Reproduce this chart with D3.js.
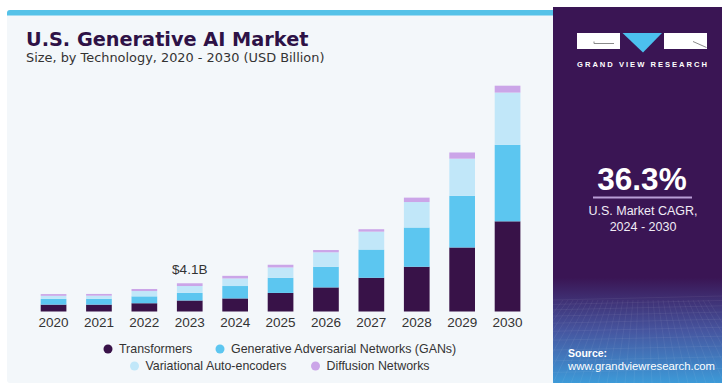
<!DOCTYPE html>
<html>
<head>
<meta charset="utf-8">
<script src="https://cdn.jsdelivr.net/npm/d3@7"></script>
<style>
  html, body { margin: 0; padding: 0; background: #ffffff; }
  svg { display: block; font-family: "Liberation Sans", Arial, sans-serif; }
</style>
</head>
<body>
<svg id="chart" width="722" height="383"></svg>
<script>
// U.S. generative AI market size by technology (USD billion)
const years = ["2020", "2021", "2022", "2023", "2024", "2025", "2026", "2027", "2028", "2029", "2030"];
const transformers = [1.0, 1.0, 1.2, 1.6, 1.9, 2.7, 3.5, 4.9, 6.5, 9.3, 13.1];
const gans = [0.83, 0.85, 1.0, 1.1, 1.8, 2.2, 3.0, 4.1, 5.7, 7.5, 11.1];
const vae = [0.45, 0.45, 0.77, 1.0, 1.1, 1.5, 2.1, 2.6, 3.7, 5.4, 7.6];
const diffusion = [0.25, 0.25, 0.3, 0.4, 0.38, 0.39, 0.33, 0.35, 0.64, 0.9, 1.0];
const seriesNames = ["Transformers", "Generative Adversarial Networks (GANs)", "Variational Auto-encoders", "Diffusion Networks"];
const seriesColors = ["#381248", "#5cc6f0", "#c1e7f9", "#cba5e8"];
const calloutYear = "2023";
const calloutText = "$4.1B";
const cagrValue = "36.3%";
const cagrLines = ["U.S. Market CAGR,", "2024 - 2030"];

const svg = d3.select("#chart");

// ---- background panels ----
svg.append("rect").attr("x", 7).attr("y", 10).attr("width", 548).attr("height", 373)
  .attr("rx", 3).attr("fill", "#f3f7fa");
svg.append("path")
  .attr("d", "M7,16 L7,13 Q7,10 10,10 L555,10 L555,15.5 L7,15.5 Z")
  .attr("fill", "#55c2e8");

// right brand panel with purple-to-blue fade at the bottom
const defs = svg.append("defs");
const grad = defs.append("linearGradient").attr("id", "sideFade")
  .attr("x1", 0).attr("y1", 0).attr("x2", 0).attr("y2", 1);
grad.append("stop").attr("offset", "0%").attr("stop-color", "#3a1554");
grad.append("stop").attr("offset", "72%").attr("stop-color", "#3a1554");
grad.append("stop").attr("offset", "86%").attr("stop-color", "#46559f");
grad.append("stop").attr("offset", "100%").attr("stop-color", "#3d9ad8");
svg.append("rect").attr("x", 553).attr("y", 7).attr("width", 169).attr("height", 376)
  .attr("fill", "url(#sideFade)");

// faint perspective grid in the lower part of the brand panel
const gridG = svg.append("g").attr("stroke", "#ffffff").attr("stroke-opacity", 0.08).attr("stroke-width", 0.8);
for (let i = 0; i < 14; i++) {
  const yy = 300 + i * i * 0.45 + i * 4;
  if (yy > 383) break;
  gridG.append("line").attr("x1", 553).attr("x2", 722).attr("y1", yy).attr("y2", yy - 4);
}
for (let i = -6; i < 24; i++) {
  const xb = 553 + i * 9;
  gridG.append("line").attr("x1", 553 + i * 5 + 40).attr("y1", 300).attr("x2", xb).attr("y2", 383);
}

// ---- logo ----
const logo = svg.append("g");
logo.append("rect").attr("x", 577).attr("y", 33).attr("width", 43).attr("height", 16).attr("fill", "#ffffff");
logo.append("path").attr("d", "M594,41.5 L594,43.5 L614,43.5").attr("fill", "none").attr("stroke", "#8a8a8a").attr("stroke-width", 1);
logo.append("path").attr("d", "M622.5,33 L662,33 L643,52.5 Z").attr("fill", "#4cc0ee");
logo.append("rect").attr("x", 664).attr("y", 33).attr("width", 43).attr("height", 16).attr("fill", "#ffffff");
logo.append("path").attr("d", "M693,41.5 L706.5,47.5").attr("fill", "none").attr("stroke", "#8a8a8a").attr("stroke-width", 1);
logo.append("text").attr("x", 642).attr("y", 67).attr("text-anchor", "middle")
  .attr("font-size", 7.6).attr("font-weight", "bold").attr("fill", "#ffffff")
  .attr("textLength", 130).attr("lengthAdjust", "spacing")
  .text("GRAND VIEW RESEARCH");

// ---- CAGR block ----
svg.append("text").attr("x", 642).attr("y", 189.5).attr("text-anchor", "middle")
  .attr("font-size", 31.5).attr("font-weight", "bold").attr("fill", "#ffffff").text(cagrValue);
svg.append("line").attr("x1", 593).attr("x2", 692).attr("y1", 197.5).attr("y2", 197.5)
  .attr("stroke", "#b99ed6").attr("stroke-width", 2);
svg.selectAll("text.cagr").data(cagrLines).join("text").attr("class", "cagr")
  .attr("x", 643).attr("y", (d, i) => 215 + i * 16).attr("text-anchor", "middle")
  .attr("font-size", 12.5).attr("fill", "#f1ecf6").text(d => d);

// ---- source ----
svg.append("text").attr("x", 568).attr("y", 357).attr("font-size", 10.5).attr("font-weight", "bold")
  .attr("fill", "#ffffff").text("Source:");
svg.append("text").attr("x", 568).attr("y", 369.5).attr("font-size", 11).attr("fill", "#ffffff")
  .attr("textLength", 147).attr("lengthAdjust", "spacingAndGlyphs").text("www.grandviewresearch.com");

// ---- titles ----
svg.append("text").attr("x", 26).attr("y", 45.6).attr("font-size", 19.3).attr("font-weight", "bold")
  .style("font-family", "'DejaVu Sans', sans-serif")
  .attr("fill", "#2e1246").text("U.S. Generative AI Market");
svg.append("text").attr("x", 26).attr("y", 62).attr("font-size", 12.9)
  .style("font-family", "'DejaVu Sans', sans-serif")
  .attr("fill", "#333333").text("Size, by Technology, 2020 - 2030 (USD Billion)");

// ---- stacked bars ----
const rows = years.map((yr, i) => ({
  year: yr,
  s0: transformers[i], s1: gans[i], s2: vae[i], s3: diffusion[i]
}));
const keys = ["s0", "s1", "s2", "s3"];
const stacked = d3.stack().keys(keys)(rows);
const totals = rows.map(r => keys.reduce((a, k) => a + r[k], 0));

const x = d3.scaleBand().domain(years).range([30.85, 530.25]).paddingInner(0.434).paddingOuter(0.217);
const y = d3.scaleLinear().domain([0, d3.max(totals)]).range([311.5, 85.7]);

svg.append("g").selectAll("g").data(stacked).join("g")
  .attr("fill", (d, i) => seriesColors[i])
  .selectAll("rect").data(d => d).join("rect")
  .attr("x", d => x(d.data.year))
  .attr("width", x.bandwidth())
  .attr("y", d => y(d[1]))
  .attr("height", d => y(d[0]) - y(d[1]));

// year axis (labels only)
const xAxis = svg.append("g").attr("transform", "translate(0,311.5)")
  .call(d3.axisBottom(x).tickSize(0).tickPadding(15));
xAxis.select(".domain").remove();
xAxis.attr("font-family", null);
xAxis.selectAll("text").attr("font-size", 13.5).attr("fill", "#333333").attr("dy", 0);

// value callout
const ci = years.indexOf(calloutYear);
svg.append("text").attr("x", x(calloutYear) + x.bandwidth() / 2).attr("y", y(totals[ci]) - 9)
  .attr("text-anchor", "middle").attr("font-size", 13.5).attr("fill", "#333333").text(calloutText);

// ---- legend ----
const legendItems = [
  { name: seriesNames[0], color: seriesColors[0], cx: 108, cy: 349 },
  { name: seriesNames[1], color: seriesColors[1], cx: 220, cy: 349 },
  { name: seriesNames[2], color: seriesColors[2], cx: 134.5, cy: 366 },
  { name: seriesNames[3], color: seriesColors[3], cx: 315.5, cy: 366 }
];
const lg = svg.append("g").selectAll("g").data(legendItems).join("g");
lg.append("circle").attr("cx", d => d.cx).attr("cy", d => d.cy).attr("r", 4.5).attr("fill", d => d.color);
lg.append("text").attr("x", d => d.cx + 11).attr("y", d => d.cy + 4.3)
  .attr("font-size", 12.4).attr("fill", "#333333").text(d => d.name);
</script>
</body>
</html>
